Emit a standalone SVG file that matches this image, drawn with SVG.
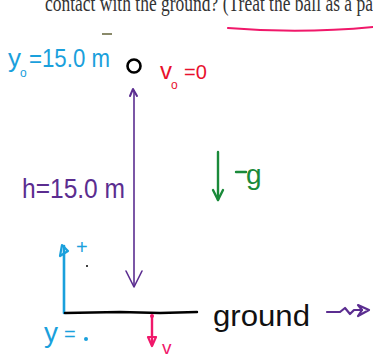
<svg xmlns="http://www.w3.org/2000/svg" width="373" height="358" viewBox="0 0 373 358">
<style>
.hw{font-family:"Liberation Sans","DejaVu Sans",sans-serif;}
.cy{fill:#1aa0dc;} .pu{fill:#5b2d90;} .rd{fill:#e8112d;} .gr{fill:#1a8a3a;} .bk{fill:#111;}
.ln{fill:none;stroke-linecap:round;stroke-linejoin:round;}
</style>
<rect width="373" height="358" fill="#fff"/>
<g id="header">
<text x="45" y="11" font-family="Liberation Serif,serif" font-size="23" fill="#333" textLength="328" lengthAdjust="spacingAndGlyphs">contact with the ground? (Treat the ball as a pa</text>
<path d="M228 28 Q300 34 373 27" class="ln" stroke="#f0186a" stroke-width="2.2"/>
<line x1="102" y1="34" x2="112" y2="34" stroke="#8a8a6a" stroke-width="2"/>
</g>
<g id="y0label">
<text x="8" y="67" class="hw cy" font-size="26">y</text>
<text x="20" y="77" class="hw cy" font-size="12">o</text>
<text x="29" y="67" class="hw cy" font-size="25" textLength="81" lengthAdjust="spacingAndGlyphs">=15.0 m</text>
</g>
<g id="ball">
<circle cx="134" cy="66" r="6.5" fill="none" stroke="#000" stroke-width="2.6"/>
</g>
<g id="v0label">
<text x="160" y="79" class="hw rd" font-size="24">v</text>
<text x="171" y="89" class="hw rd" font-size="12">o</text>
<text x="184" y="79" class="hw rd" font-size="20">=0</text>
</g>
<g id="connectors">
<line x1="134" y1="90" x2="134" y2="287" stroke="#5b2d90" stroke-width="1.6"/>
<path d="M130 96 L133 89 L137 96" class="ln" stroke="#5b2d90" stroke-width="2"/>
<path d="M126 271 L134 287 L142 271" class="ln" stroke="#5b2d90" stroke-width="1.6"/>
</g>
<g id="hlabel">
<text x="22" y="198" class="hw pu" font-size="27" textLength="103" lengthAdjust="spacingAndGlyphs">h=15.0 m</text>
</g>
<g id="gravity">
<path d="M218 152 L218 200" class="ln" stroke="#1a8a3a" stroke-width="2.4"/>
<path d="M213 190 L218 200 L223 190" class="ln" stroke="#1a8a3a" stroke-width="2.4"/>
<line x1="236" y1="172" x2="246" y2="172" stroke="#1a8a3a" stroke-width="2.4" stroke-linecap="round"/>
<text x="246" y="184" class="hw gr" font-size="28">g</text>
</g>
<g id="axis">
<path d="M64 246 L64 313" class="ln" stroke="#1aa0dc" stroke-width="2.6"/>
<path d="M60 256 L62 245 L68 251 Z" class="ln" stroke="#1aa0dc" stroke-width="2.2"/>
<text x="76" y="254" class="hw cy" font-size="20">+</text>
<circle cx="87" cy="266" r="1" fill="#000"/>
<text x="44" y="342" class="hw cy" font-size="28">y</text>
<text x="64" y="341" class="hw cy" font-size="20">=</text>
<circle cx="86" cy="339" r="2" fill="#1aa0dc"/>
</g>
<g id="ground">
<path d="M65 313 L120 312 L160 313 L197 312" class="ln" stroke="#000" stroke-width="2.4"/>
<text x="213" y="326" class="hw bk" font-size="30" textLength="97" lengthAdjust="spacingAndGlyphs">ground</text>
<path d="M327 312 L340 312 L345 308 L350 314 L354 310 L362 310" class="ln" stroke="#5b2d90" stroke-width="2.2"/>
<path d="M358 305 L369 310 L358 316 L362 310 Z" class="ln" stroke="#5b2d90" stroke-width="2.2"/>
</g>
<g id="vfinal">
<path d="M152 316 L152 345" class="ln" stroke="#f0186a" stroke-width="2.4"/>
<circle cx="152" cy="316" r="2" fill="#f0186a"/>
<path d="M148 337 L152 346 L156 337 Z" class="ln" stroke="#f0186a" stroke-width="2.2"/>
<text x="162" y="354" class="hw" fill="#f0186a" font-size="19">v</text>
</g>
</svg>
